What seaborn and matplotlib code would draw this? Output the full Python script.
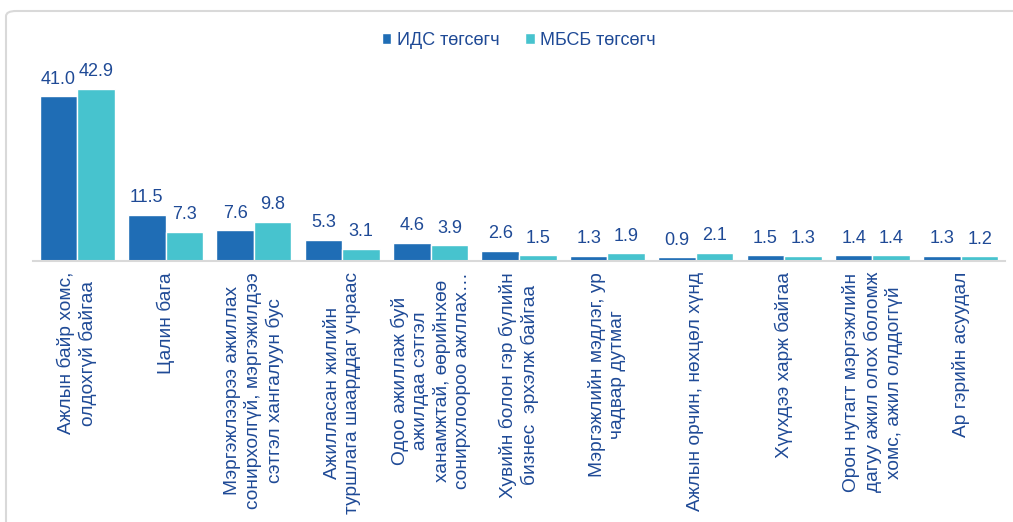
import seaborn as sns
import matplotlib.pyplot as plt
import pandas as pd
from matplotlib.patches import FancyBboxPatch

# survey answers: reasons for not working in own profession
categories = [
    "Ажлын байр хомс,\nолдохгүй байгаа",
    "Цалин бага",
    "Мэргэжлээрээ ажиллах\nсонирхолгүй, мэргэжилдээ\nсэтгэл хангалуун бус",
    "Ажилласан жилийн\nтуршлага шаарддаг учраас",
    "Одоо ажиллаж буй\nажилдаа сэтгэл\nханамжтай, өөрийнхөө\nсонирхлоороо ажллах…",
    "Хувийн болон гэр бүлийн\nбизнес  эрхэлж байгаа",
    "Мэргэжлийн мэдлэг, ур\nчадвар дутмаг",
    "Ажлын орчин, нөхцөл хүнд",
    "Хүүхдээ харж байгаа",
    "Орон нутагт мэргэжлийн\nдагуу ажил олох боломж\nхомс, ажил олддоггүй",
    "Ар гэрийн асуудал",
]
ids_vals = [41.0, 11.5, 7.6, 5.3, 4.6, 2.6, 1.3, 0.9, 1.5, 1.4, 1.3]
mbsb_vals = [42.9, 7.3, 9.8, 3.1, 3.9, 1.5, 1.9, 2.1, 1.3, 1.4, 1.2]
series = ["ИДС төгсөгч", "МБСБ төгсөгч"]

df = pd.DataFrame({
    "cat": categories * 2,
    "val": ids_vals + mbsb_vals,
    "grp": [series[0]] * len(categories) + [series[1]] * len(categories),
})

sns.set_style("white")
plt.rcParams["font.family"] = ["Liberation Sans", "DejaVu Sans"]
text_col = "#1F4A96"

fig = plt.figure(figsize=(10.13, 5.22), dpi=100)
ax = fig.add_axes([33 / 1013, 0.5, 972 / 1013, 0.385])

sns.barplot(data=df, x="cat", y="val", hue="grp", order=categories,
            hue_order=series, palette=["#1F6DB5", "#47C3CE"],
            width=0.85, gap=0, saturation=1, errorbar=None, ax=ax)

for cont in ax.containers:
    ax.bar_label(cont, fmt="%.1f", padding=6, fontsize=13, color=text_col)

ax.set_ylim(0, 50)
ax.set_xlim(-0.5, len(categories) - 0.5)
ax.set_xlabel("")
ax.set_ylabel("")
ax.set_yticks([])
for s in ["top", "right", "left"]:
    ax.spines[s].set_visible(False)
ax.spines["bottom"].set_color("#D9D9D9")
ax.spines["bottom"].set_linewidth(1.5)
ax.tick_params(axis="x", length=0, pad=8)
ax.set_xticks(range(len(categories)))
ax.set_xticklabels(categories, rotation=90, fontsize=13.8, color=text_col,
                   ha="center", va="top", multialignment="center",
                   linespacing=1.25)

ax.legend(loc="center", bbox_to_anchor=(0.512, 0.923), bbox_transform=fig.transFigure,
          ncol=2, frameon=False, fontsize=13, labelcolor=text_col,
          handlelength=0.55, handleheight=0.55, handletextpad=0.3, columnspacing=1.4)

# light frame around the chart area
frame = FancyBboxPatch((6 / 1013, -0.05), 1.05, 0.05 + (522 - 11) / 522,
                       boxstyle="round,pad=0,rounding_size=0.01",
                       transform=fig.transFigure, fill=False,
                       edgecolor="#D9D9D9", linewidth=1.5, clip_on=False)
fig.patches.append(frame)

fig.savefig("out.png", dpi=100)
